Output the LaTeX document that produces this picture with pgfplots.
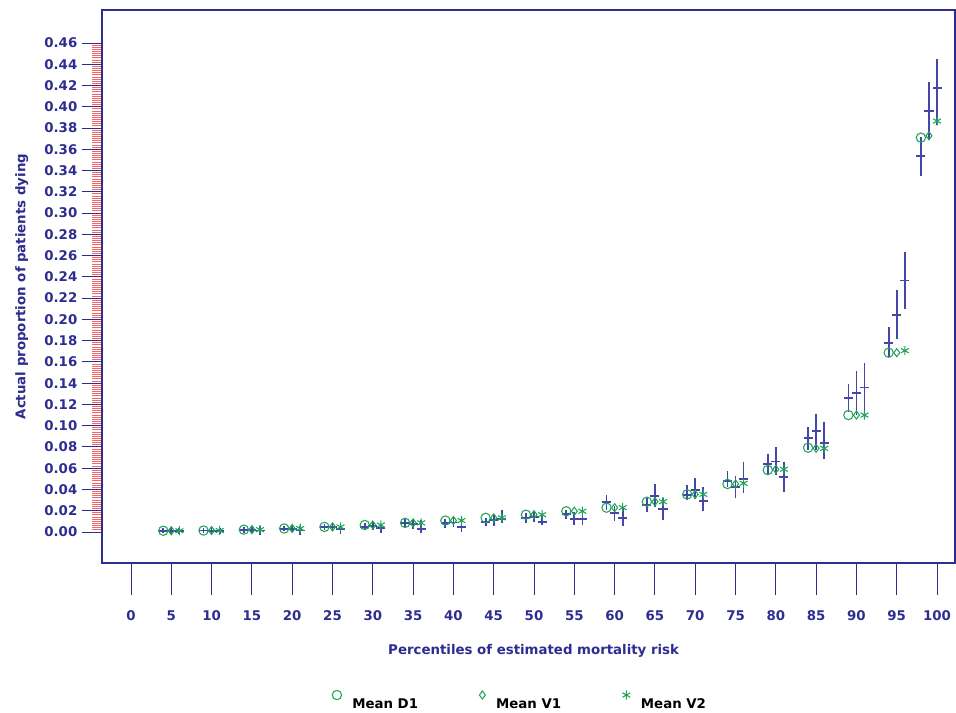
\documentclass[border=0pt]{standalone}
\usepackage{fontspec}
\setmainfont{Liberation Sans}
\newfontfamily\dv{DejaVu Sans}
\usepackage{pgfplots}
\pgfplotsset{compat=1.18}
\usepackage{pgfplotstable}

\definecolor{navy}{RGB}{45,45,145}
\definecolor{barblue}{RGB}{70,70,170}
\definecolor{tickred}{RGB}{245,100,100}
\definecolor{mkgreen}{RGB}{30,165,85}

% crosses at D1 position (x = group - 1)
\pgfplotstableread{
x y lo hi
4 0.0012 -0.0010 0.0035
9 0.0014 -0.0010 0.0038
14 0.0020 -0.0005 0.0045
19 0.0030 0.0005 0.0055
24 0.0044 0.0015 0.0075
29 0.0050 0.0020 0.0085
34 0.0082 0.0045 0.0120
39 0.0082 0.0040 0.0125
44 0.0097 0.0060 0.0135
49 0.0130 0.0085 0.0175
54 0.0166 0.0120 0.0210
59 0.0282 0.0207 0.0348
64 0.0254 0.0190 0.0317
69 0.0348 0.0301 0.0442
74 0.0483 0.0420 0.0577
79 0.0640 0.0546 0.0734
84 0.0881 0.0771 0.0990
89 0.1258 0.1130 0.1390
94 0.1780 0.1650 0.1930
98 0.3537 0.3350 0.3720
}\crossD
% crosses at V1 position
\pgfplotstableread{
x y lo hi
5 0.0010 -0.0015 0.0035
10 0.0012 -0.0015 0.0040
15 0.0018 -0.0010 0.0050
20 0.0028 0.0000 0.0060
25 0.0044 0.0010 0.0080
30 0.0055 0.0015 0.0095
35 0.0075 0.0030 0.0120
40 0.0090 0.0050 0.0130
45 0.0110 0.0060 0.0160
50 0.0138 0.0090 0.0200
55 0.0120 0.0066 0.0190
60 0.0176 0.0106 0.0245
65 0.0339 0.0238 0.0449
70 0.0395 0.0307 0.0505
75 0.0420 0.0317 0.0527
80 0.0662 0.0536 0.0803
85 0.0950 0.0771 0.1110
90 0.1305 0.1100 0.1515
95 0.2040 0.1820 0.2276
99 0.3960 0.3688 0.4236
}\crossV
% crosses at V2 position
\pgfplotstableread{
x y lo hi
6 0.0010 -0.0020 0.0040
11 0.0011 -0.0020 0.0042
16 0.0015 -0.0030 0.0060
21 0.0015 -0.0030 0.0060
26 0.0025 -0.0015 0.0065
31 0.0035 -0.0005 0.0075
36 0.0025 -0.0010 0.0110
41 0.0050 0.0003 0.0120
46 0.0120 0.0080 0.0210
51 0.0097 0.0066 0.0150
56 0.0120 0.0070 0.0185
61 0.0129 0.0056 0.0223
66 0.0213 0.0113 0.0317
71 0.0292 0.0198 0.0426
76 0.0499 0.0364 0.0656
81 0.0514 0.0379 0.0662
86 0.0840 0.0684 0.1038
91 0.1360 0.1100 0.1590
96 0.2365 0.2100 0.2630
100 0.4174 0.3830 0.4450
}\crossW
% means
\pgfplotstableread{
xd d1 xv v1 xw v2
4 0.0012 5 0.0012 6 0.0012
9 0.0014 10 0.0014 11 0.0014
14 0.0022 15 0.0022 16 0.0022
19 0.0033 20 0.0033 21 0.0033
24 0.0048 25 0.0048 26 0.0048
29 0.0066 30 0.0066 31 0.0066
34 0.0086 35 0.0086 36 0.0086
39 0.0108 40 0.0108 41 0.0108
44 0.0133 45 0.0133 46 0.0133
49 0.0163 50 0.0163 51 0.0163
54 0.0195 55 0.0195 56 0.0195
59 0.0229 60 0.0229 61 0.0229
64 0.0285 65 0.0285 66 0.0285
69 0.0354 70 0.0354 71 0.0354
74 0.0452 75 0.0452 76 0.0458
79 0.0583 80 0.0590 81 0.0590
84 0.0793 85 0.0787 86 0.0787
89 0.1100 90 0.1100 91 0.1100
94 0.1687 95 0.1687 96 0.1706
98 0.3710 99 0.3728 100 0.3866
}\means

\begin{document}
\begin{tikzpicture}
\pgfplotsset{
  common/.style={
    at={(0,0)}, anchor=south west, scale only axis,
    width=639.75pt, height=414.75pt,
    xmin=-3.598, xmax=102.23, ymin=-0.02916, ymax=0.49106,
    tick align=outside,
  },
  crossstyle/.style={only marks, mark=-, mark size=3.4pt, color=barblue,
    mark options={line width=1.3pt},
    error bars/.cd, y dir=both, y explicit, error mark=none,
    error bar style={line width=1.3pt, barblue}, /pgfplots/.cd},
}
\begin{axis}[common,
  axis line style={navy, line width=1pt},
  xtick=\empty,
  ytick={0,0.02,0.04,0.06,0.08,0.10,0.12,0.14,0.16,0.18,0.20,0.22,0.24,0.26,0.28,0.30,0.32,0.34,0.36,0.38,0.40,0.42,0.44,0.46},
  minor y tick num=9,
  ytick pos=left,
  major tick length=15pt, minor tick length=7.5pt,
  major tick style={navy, line width=0.75pt},
  minor tick style={draw=tickred, line width=0.75pt},
  every minor tick/.append style={draw=tickred},
  yticklabel style={navy, font=\dv\bfseries\fontsize{10}{12}\selectfont,
    /pgf/number format/.cd, fixed, fixed zerofill, precision=2, assume math mode=true},
  ylabel={Actual proportion of patients dying},
  ylabel style={at={(-0.094,0.5)}, anchor=center, navy, font=\dv\bfseries\fontsize{10}{12}\selectfont},
  legend style={draw=none, fill=none, at={(0.4906,0)}, anchor=center, yshift=-104pt,
    legend columns=3, font=\dv\bfseries\fontsize{10}{12}\selectfont,
    /tikz/every odd column/.append style={column sep=6pt},
    /tikz/every even column/.append style={column sep=44pt}},
  legend image post style={yshift=7pt},
]
\addplot[forget plot, crossstyle] table[x=x, y=y, y error plus expr=\thisrow{hi}-\thisrow{y}, y error minus expr=\thisrow{y}-\thisrow{lo}] {\crossD};
\addplot[forget plot, crossstyle] table[x=x, y=y, y error plus expr=\thisrow{hi}-\thisrow{y}, y error minus expr=\thisrow{y}-\thisrow{lo}] {\crossV};
\addplot[forget plot, crossstyle] table[x=x, y=y, y error plus expr=\thisrow{hi}-\thisrow{y}, y error minus expr=\thisrow{y}-\thisrow{lo}] {\crossW};
\addplot[only marks, mark=o, mark size=3.5pt, color=mkgreen, mark options={line width=0.8pt}] table[x=xd, y=d1] {\means};
\addlegendentry{Mean D1}
\addplot[only marks, mark=diamond, mark size=3pt, color=mkgreen, mark options={line width=0.8pt}] table[x=xv, y=v1] {\means};
\addlegendentry{Mean V1}
\addplot[only marks, mark=asterisk, mark size=3.4pt, color=mkgreen, mark options={line width=0.8pt}] table[x=xw, y=v2] {\means};
\addlegendentry{Mean V2}
\end{axis}
\begin{axis}[common,
  axis line style={draw=none},
  ytick=\empty,
  xtick={0,5,...,100},
  xtick pos=bottom,
  major tick length=24pt,
  major tick style={navy, line width=0.75pt},
  xticklabel style={navy, font=\dv\bfseries\fontsize{10}{12}\selectfont, yshift=-8pt,
    /pgf/number format/.cd, assume math mode=true},
  xlabel={Percentiles of estimated mortality risk},
  xlabel style={at={(0.506,-0.159)}, anchor=center, navy, font=\dv\bfseries\fontsize{10}{12}\selectfont},
]
\end{axis}
\pgfresetboundingbox
\useasboundingbox (-76.5pt,-112.5pt) rectangle (640.5pt,422.25pt);
\end{tikzpicture}
\end{document}
